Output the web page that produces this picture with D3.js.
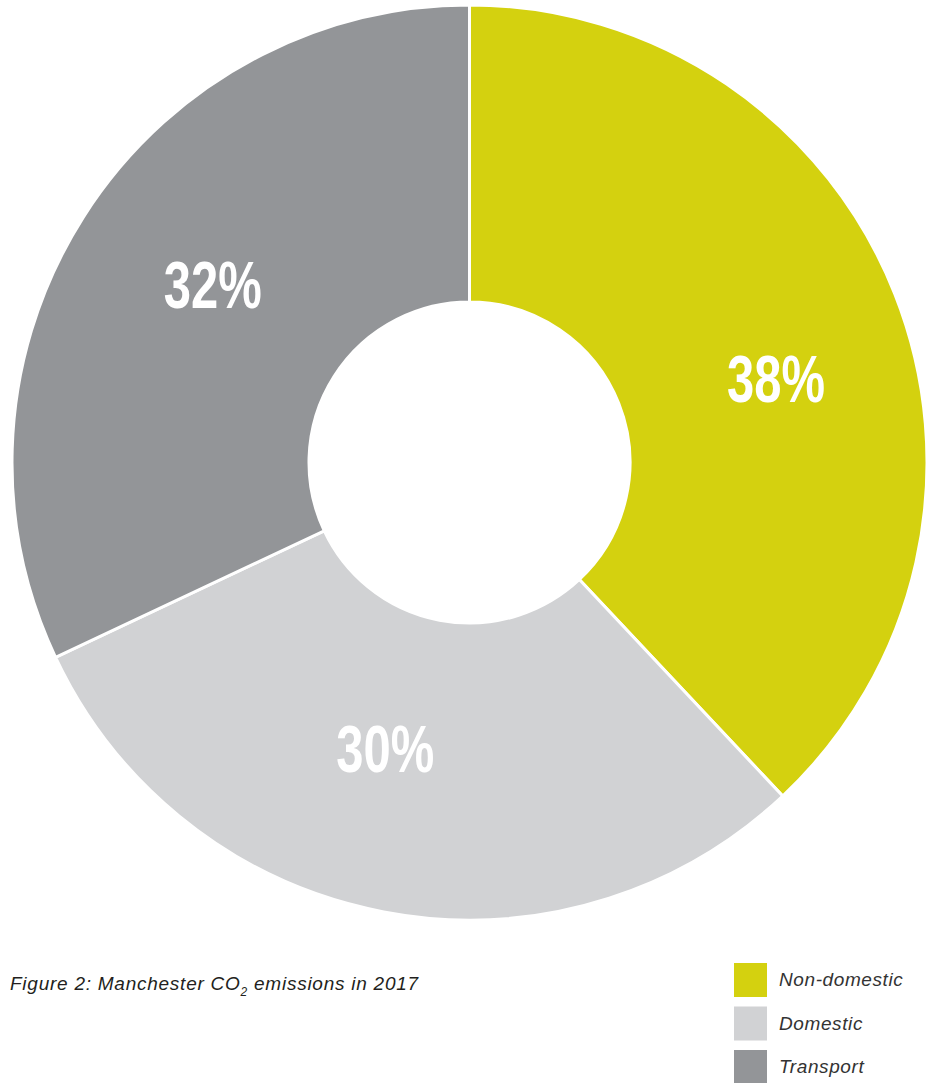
<!DOCTYPE html>
<html>
<head>
<meta charset="utf-8">
<script src="https://cdn.jsdelivr.net/npm/d3@7"></script>
<style>
  html, body { margin: 0; padding: 0; background: #ffffff; }
  svg { display: block; }
</style>
</head>
<body>
<svg id="chart" width="932" height="1083"></svg>
<script>
const categories = ["Non-domestic", "Domestic", "Transport"];
const values = [38, 30, 32];
const colors = ["#d4d10f", "#d1d2d4", "#939598"];
const captionMain = "Figure 2: Manchester CO";
const captionSub = "2";
const captionEnd = " emissions in 2017";

const svg = d3.select("#chart");
const cx = 469.5, cy = 462.5, outerR = 457.5, innerR = 160.5;

const pie = d3.pie().sort(null).value(d => d.value);
const data = categories.map((c, i) => ({ name: c, value: values[i], color: colors[i] }));
const arcs = pie(data);

const arc = d3.arc().innerRadius(innerR).outerRadius(outerR);

const g = svg.append("g").attr("transform", `translate(${cx},${cy})`);
g.selectAll("path.slice")
  .data(arcs)
  .join("path")
  .attr("class", "slice")
  .attr("d", arc)
  .attr("fill", d => d.data.color)
  .attr("stroke", "#ffffff")
  .attr("stroke-width", 3)
  .attr("stroke-linejoin", "miter");

// labels: placed at a label radius, nudged clockwise a little
const labelR = [318, 298, 313];
const labelNudge = [6.2, 5.6, 2.5]; // degrees
g.selectAll("text.lbl")
  .data(arcs)
  .join("text")
  .attr("class", "lbl")
  .attr("x", (d, i) => {
    const a = (d.startAngle + d.endAngle) / 2 + labelNudge[i] * Math.PI / 180;
    return Math.sin(a) * labelR[i];
  })
  .attr("y", (d, i) => {
    const a = (d.startAngle + d.endAngle) / 2 + labelNudge[i] * Math.PI / 180;
    return -Math.cos(a) * labelR[i];
  })
  .attr("dy", "0.36em")
  .attr("text-anchor", "middle")
  .attr("fill", "#ffffff")
  .attr("font-family", "'Liberation Sans', Arial, sans-serif")
  .attr("font-weight", "bold")
  .attr("font-size", 67)
  .attr("textLength", 98)
  .attr("lengthAdjust", "spacingAndGlyphs")
  .text(d => d.data.value + "%");

// caption
const cap = svg.append("text")
  .attr("x", 10)
  .attr("y", 990)
  .attr("fill", "#231f20")
  .attr("font-family", "'Liberation Sans', Arial, sans-serif")
  .attr("font-style", "italic")
  .attr("font-size", 19)
  .attr("letter-spacing", 0.75);
cap.append("tspan").text(captionMain);
cap.append("tspan").attr("font-size", 12).attr("dy", 6).text(captionSub);
cap.append("tspan").attr("dy", -6).text(captionEnd);

// legend
const legend = svg.append("g").attr("transform", "translate(734,963)");
const items = legend.selectAll("g.item")
  .data(data)
  .join("g")
  .attr("class", "item")
  .attr("transform", (d, i) => `translate(0,${i * 43.5})`);
items.append("rect")
  .attr("width", 33)
  .attr("height", 34)
  .attr("fill", d => d.color);
items.append("text")
  .attr("x", 45)
  .attr("y", 23)
  .attr("fill", "#333333")
  .attr("font-family", "'Liberation Sans', Arial, sans-serif")
  .attr("font-style", "italic")
  .attr("font-size", 19)
  .attr("letter-spacing", 0.6)
  .text(d => d.name);
</script>
</body>
</html>
